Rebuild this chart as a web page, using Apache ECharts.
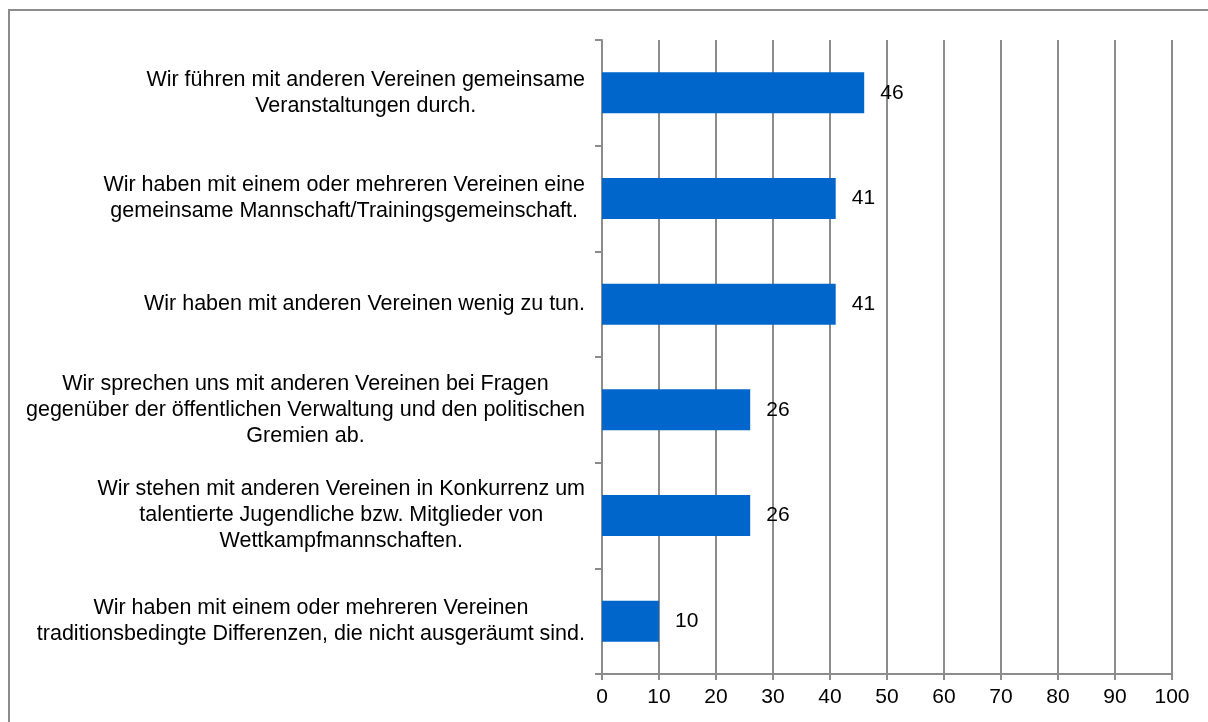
<!DOCTYPE html>
<html>
<head>
    <meta charset="utf-8">
    <title>ECharts</title>
    <script src="https://cdn.jsdelivr.net/npm/echarts@6/dist/echarts.min.js"></script>
    <style>
        body { margin: 0; background: #fff; }
    </style>
</head>
<body>
<div id="main" style="width: 1208px;height:722px;"></div>
<script type="text/javascript">
    // Kategorien (von oben nach unten)
    var categories = [
        'Wir führen mit anderen Vereinen gemeinsame\nVeranstaltungen durch.',
        'Wir haben mit einem oder mehreren Vereinen eine\ngemeinsame Mannschaft/Trainingsgemeinschaft.',
        'Wir haben mit anderen Vereinen wenig zu tun.',
        'Wir sprechen uns mit anderen Vereinen bei Fragen\ngegenüber der öffentlichen Verwaltung und den politischen\nGremien ab.',
        'Wir stehen mit anderen Vereinen in Konkurrenz um\ntalentierte Jugendliche bzw. Mitglieder von\nWettkampfmannschaften.',
        'Wir haben mit einem oder mehreren Vereinen\ntraditionsbedingte Differenzen, die nicht ausgeräumt sind.'
    ];
    var values = [46, 41, 41, 26, 26, 10];
    var xMin = 0;
    var xMax = 100;
    var xStep = 10;

    var chartDom = document.getElementById('main');
    var myChart = echarts.init(chartDom);
    var font = "'Liberation Sans', Arial, sans-serif";
    var gray = '#8c8c8c';

    var option = {
        animation: false,
        textStyle: { fontFamily: font },
        graphic: [{
            type: 'rect',
            shape: { x: 9, y: 10, width: 1220, height: 730 },
            style: { fill: 'none', stroke: gray, lineWidth: 2 }
        }],
        grid: {
            left: 602,
            right: 36,
            top: 40,
            bottom: 48
        },
        xAxis: {
            type: 'value',
            min: xMin,
            max: xMax,
            interval: xStep,
            axisLine: { show: true, lineStyle: { color: gray, width: 2 } },
            axisTick: { show: true, length: 6, lineStyle: { color: gray, width: 2 } },
            axisLabel: { color: '#000', fontSize: 21, margin: 13, fontFamily: font },
            splitLine: { show: true, lineStyle: { color: gray, width: 2 } }
        },
        yAxis: {
            type: 'category',
            inverse: true,
            data: categories,
            axisLine: { show: true, lineStyle: { color: gray, width: 2 } },
            axisTick: { show: true, length: 7, lineStyle: { color: gray, width: 2 } },
            axisLabel: {
                color: '#000',
                fontSize: 21.5,
                lineHeight: 26,
                margin: 17,
                fontFamily: font,
                formatter: function (v) {
                    return v.split('\n').map(function (l) { return '{c|' + l + '}'; }).join('\n');
                },
                rich: {
                    c: { align: 'center', fontSize: 21.5, lineHeight: 26, color: '#000', fontFamily: font }
                }
            }
        },
        series: [{
            type: 'bar',
            data: values,
            barWidth: 41,
            itemStyle: { color: '#0066cc' },
            label: {
                show: true,
                position: 'right',
                distance: 16,
                color: '#000',
                fontSize: 21,
                fontFamily: font
            }
        }]
    };

    myChart.setOption(option);
</script>
</body>
</html>
